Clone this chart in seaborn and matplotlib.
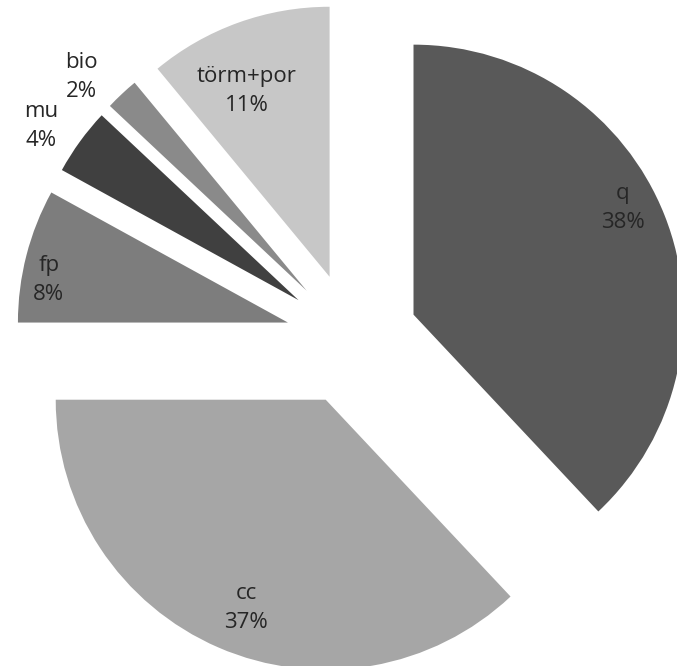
import matplotlib
matplotlib.use("Agg")
import matplotlib.pyplot as plt
import seaborn as sns
import numpy as np

labels = ["q", "cc", "fp", "mu", "bio", "törm+por"]
percent = [38, 37, 8, 4, 2, 11]
colors = ["#595959", "#a6a6a6", "#7d7d7d", "#404040", "#8a8a8a", "#c7c7c7"]
label_dist = [0.87, 0.825, 0.90, 1.15, 1.15, 0.755]
label_turn = [5.5, 2.4, 4.3, 2.0, 3.4, 4.2]

sns.set_theme(style="white")
plt.rcParams['font.family'] = ['Open Sans', 'DejaVu Sans']

W, H = 677, 666
R = 270.0
cx_px, cy_px = 352, 339  # pie centre in pixels from top-left

fig = plt.figure(figsize=(W / 100, H / 100), dpi=100)
ax = fig.add_axes([0, 0, 1, 1])
wedges, _ = ax.pie(percent, colors=colors, startangle=90, counterclock=False,
                   explode=[0.245] * len(percent), radius=1, center=(0, 0),
                   frame=True, wedgeprops=dict(linewidth=0))
ax.set_xlim(-cx_px / R, (W - cx_px) / R)
ax.set_ylim(-(H - cy_px) / R, cy_px / R)
ax.set_aspect('equal')
ax.axis('off')

for w, lab, p, d, t in zip(wedges, labels, percent, label_dist, label_turn):
    ang = np.deg2rad((w.theta1 + w.theta2) / 2 + t)
    wx, wy = w.center
    ax.text(wx + d * w.r * np.cos(ang), wy + d * w.r * np.sin(ang),
            f"{lab}\n{p}%", ha='center', va='center', fontsize=16,
            linespacing=1.5, color="#262626")

fig.savefig("out.png", dpi=100)
